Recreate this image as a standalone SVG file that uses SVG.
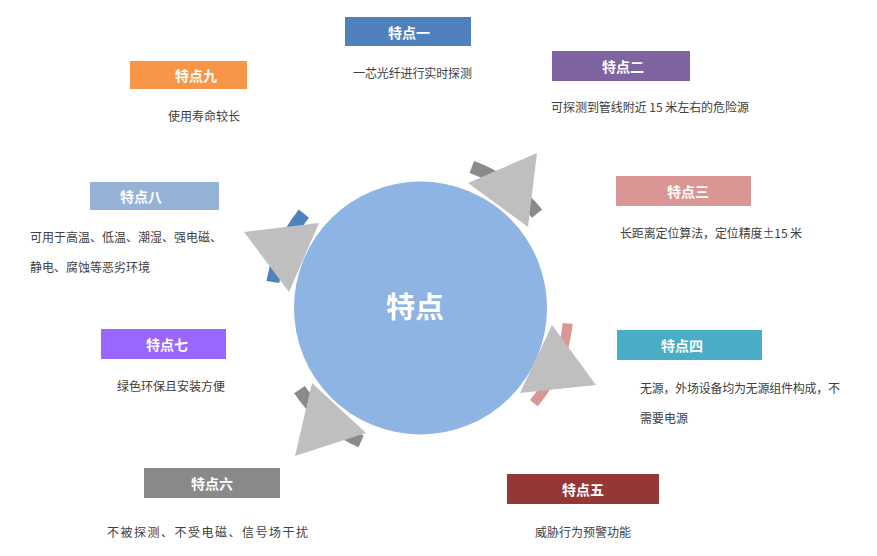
<svg xmlns="http://www.w3.org/2000/svg" width="877" height="556" viewBox="0 0 877 556">
<style>
.ttl{font-family:"Noto Sans CJK SC","Liberation Sans",sans-serif;font-size:14px;font-weight:bold;fill:#fff;text-anchor:middle;dominant-baseline:central}
.dsc{font-family:"Noto Sans CJK SC","Liberation Sans",sans-serif;font-size:12px;fill:#404040;dominant-baseline:central}
.tri{fill:#BFBFBF}
.arc{fill:none;stroke-linecap:butt}
</style>
<rect width="877" height="556" fill="#fff"/>
<g id="connectors">
<path class="arc" d="M471.8,167 A150,150 0 0 1 537.1,213.6" stroke="#8A8A8A" stroke-width="13"/>
<path class="arc" d="M272.8,282 A150,150 0 0 1 303.9,213.6" stroke="#4F81BD" stroke-width="13"/>
<path class="arc" d="M567.7,323.5 A148,148 0 0 1 533.9,403.1" stroke="#D99694" stroke-width="10"/>
<path class="arc" d="M361.1,441.4 A146,146 0 0 1 299.5,389.6" stroke="#8A8A8A" stroke-width="13"/>
</g>
<g id="center">
<circle cx="420.5" cy="308" r="126.5" fill="#8EB4E3"/>
<text x="415" y="305" font-family="Noto Sans CJK SC, sans-serif" font-size="29" font-weight="bold" fill="#fff" text-anchor="middle" dominant-baseline="central">特点</text>
</g>
<g id="arrowheads">
<polygon class="tri" points="468,183 537,153 528,227"/>
<polygon class="tri" points="244,232 319,223 289,292"/>
<polygon class="tri" points="552,325 596,385 520,393"/>
<polygon class="tri" points="312,383 366,433 295,456"/>
</g>
<g id="f1">
<rect x="345" y="17" width="126" height="29" fill="#4F81BD"/>
<text class="ttl" x="409" y="31.5">特点一</text>
<text class="dsc" x="353" y="72" textLength="119">一芯光纤进行实时探测</text>
</g>
<g id="f2">
<rect x="552" y="51" width="138" height="30" fill="#8064A2"/>
<text class="ttl" x="623" y="66">特点二</text>
<text class="dsc" x="551" y="106" textLength="198">可探测到管线附近 15 米左右的危险源</text>
</g>
<g id="f3">
<rect x="616" y="176" width="135" height="30" fill="#D99694"/>
<text class="ttl" x="688" y="191">特点三</text>
<text class="dsc" x="620" y="232" textLength="182">长距离定位算法，定位精度±15 米</text>
</g>
<g id="f4">
<rect x="617" y="330" width="145" height="30" fill="#4BACC6"/>
<text class="ttl" x="682" y="345">特点四</text>
<text class="dsc" x="640" y="387" textLength="200">无源，外场设备均为无源组件构成，不</text>
<text class="dsc" x="640" y="417">需要电源</text>
</g>
<g id="f5">
<rect x="507" y="474" width="152" height="30" fill="#953735"/>
<text class="ttl" x="583" y="489">特点五</text>
<text class="dsc" x="535" y="531">威胁行为预警功能</text>
</g>
<g id="f6">
<rect x="144" y="468" width="136" height="30" fill="#898989"/>
<text class="ttl" x="212" y="483">特点六</text>
<text class="dsc" x="107" y="531" textLength="201">不被探测、不受电磁、信号场干扰</text>
</g>
<g id="f7">
<rect x="101" y="329" width="125" height="30" fill="#9966FF"/>
<text class="ttl" x="167" y="344">特点七</text>
<text class="dsc" x="117" y="385">绿色环保且安装方便</text>
</g>
<g id="f8">
<rect x="90" y="182" width="129" height="28" fill="#95B3D7"/>
<text class="ttl" x="141" y="196">特点八</text>
<text class="dsc" x="30" y="236">可用于高温、低温、潮湿、强电磁、</text>
<text class="dsc" x="30" y="266">静电、腐蚀等恶劣环境</text>
</g>
<g id="f9">
<rect x="130" y="61" width="117" height="28" fill="#F79646"/>
<text class="ttl" x="196" y="75">特点九</text>
<text class="dsc" x="168" y="115">使用寿命较长</text>
</g>
</svg>
